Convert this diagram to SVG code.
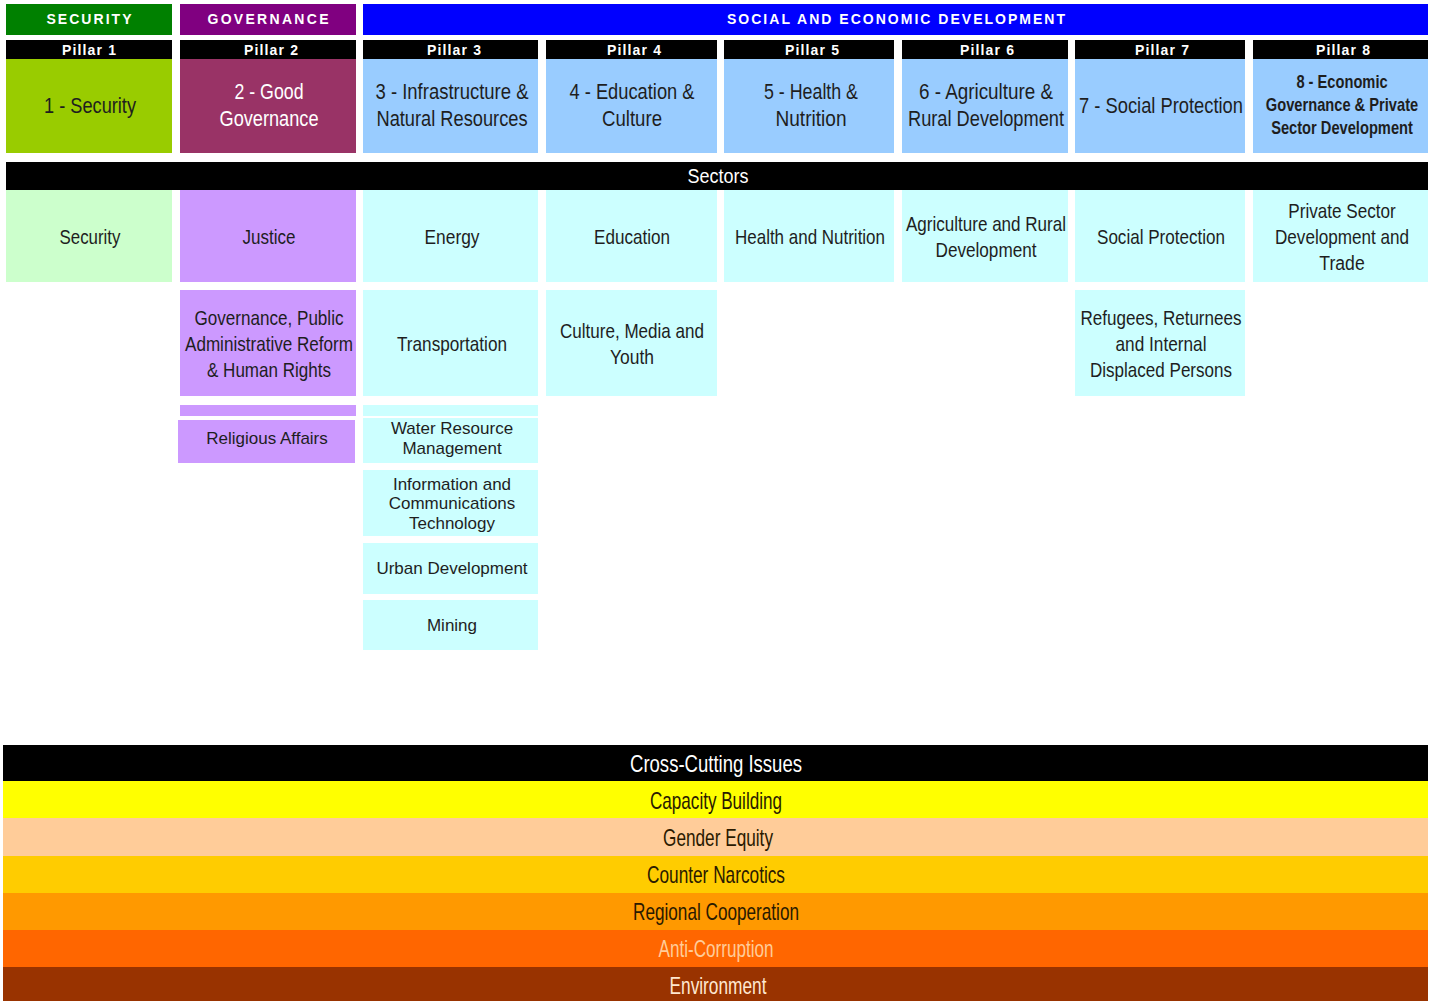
<svg xmlns="http://www.w3.org/2000/svg" width="1435" height="1001" viewBox="0 0 1435 1001">
<style>
text{font-family:"Liberation Sans",Arial,sans-serif;text-anchor:middle}
.hd{font-size:14px;font-weight:bold;fill:#fff}
.pt{font-size:22px;fill:#1e1e1e}
.pb{font-size:18px;font-weight:bold;fill:#1e1e1e}
.st{font-size:21px;fill:#1e1e1e}
.sm{font-size:17px;fill:#1e1e1e}
.cc{font-size:24px;fill:#2a1a00}
.blk{fill:#000}
.lb{fill:#99CCFF}
.cy{fill:#CCFFFF}
.pu{fill:#CC99FF}
</style>
<rect width="1435" height="1001" fill="#fff"/>

<g id="header-security">
<rect x="6" y="4" width="166" height="31" fill="#008000"/>
<text class="hd" x="89" y="24" textLength="85" lengthAdjust="spacing">SECURITY</text>
</g>
<g id="header-governance">
<rect x="180" y="4" width="176" height="31" fill="#800080"/>
<text class="hd" x="268" y="24" textLength="121" lengthAdjust="spacing">GOVERNANCE</text>
</g>
<g id="header-social">
<rect x="363" y="4" width="1065" height="31" fill="#0000FF"/>
<text class="hd" x="896" y="24" textLength="338" lengthAdjust="spacing">SOCIAL AND ECONOMIC DEVELOPMENT</text>
</g>

<g id="pillar1">
<rect class="blk" x="6" y="40" width="166" height="19"/>
<text class="hd" x="89" y="55" textLength="54" lengthAdjust="spacing">Pillar 1</text>
<rect x="6" y="59" width="166" height="94" fill="#99CC00"/>
<text class="pt" x="90" y="113" textLength="92" lengthAdjust="spacingAndGlyphs">1 - Security</text>
</g>
<g id="pillar2">
<rect class="blk" x="180" y="40" width="176" height="19"/>
<text class="hd" x="271" y="55" textLength="54" lengthAdjust="spacing">Pillar 2</text>
<rect x="180" y="59" width="176" height="94" fill="#993366"/>
<text class="pt" x="269" y="99" style="fill:#fff" textLength="69" lengthAdjust="spacingAndGlyphs">2 - Good</text>
<text class="pt" x="269" y="126" style="fill:#fff" textLength="99" lengthAdjust="spacingAndGlyphs">Governance</text>
</g>
<g id="pillar3">
<rect class="blk" x="363" y="40" width="175" height="19"/>
<text class="hd" x="454" y="55" textLength="54" lengthAdjust="spacing">Pillar 3</text>
<rect class="lb" x="363" y="59" width="175" height="94"/>
<text class="pt" x="452" y="99" textLength="153" lengthAdjust="spacingAndGlyphs">3 - Infrastructure &amp;</text>
<text class="pt" x="452" y="126" textLength="151" lengthAdjust="spacingAndGlyphs">Natural Resources</text>
</g>
<g id="pillar4">
<rect class="blk" x="546" y="40" width="171" height="19"/>
<text class="hd" x="634" y="55" textLength="54" lengthAdjust="spacing">Pillar 4</text>
<rect class="lb" x="546" y="59" width="171" height="94"/>
<text class="pt" x="632" y="99" textLength="125" lengthAdjust="spacingAndGlyphs">4 - Education &amp;</text>
<text class="pt" x="632" y="126" textLength="60" lengthAdjust="spacingAndGlyphs">Culture</text>
</g>
<g id="pillar5">
<rect class="blk" x="724" y="40" width="170" height="19"/>
<text class="hd" x="812" y="55" textLength="54" lengthAdjust="spacing">Pillar 5</text>
<rect class="lb" x="724" y="59" width="170" height="94"/>
<text class="pt" x="811" y="99" textLength="94" lengthAdjust="spacingAndGlyphs">5 - Health &amp;</text>
<text class="pt" x="811" y="126" textLength="71" lengthAdjust="spacingAndGlyphs">Nutrition</text>
</g>
<g id="pillar6">
<rect class="blk" x="902" y="40" width="166" height="19"/>
<text class="hd" x="987" y="55" textLength="54" lengthAdjust="spacing">Pillar 6</text>
<rect class="lb" x="902" y="59" width="166" height="94"/>
<text class="pt" x="986" y="99" textLength="134" lengthAdjust="spacingAndGlyphs">6 - Agriculture &amp;</text>
<text class="pt" x="986" y="126" textLength="156" lengthAdjust="spacingAndGlyphs">Rural Development</text>
</g>
<g id="pillar7">
<rect class="blk" x="1075" y="40" width="170" height="19"/>
<text class="hd" x="1162" y="55" textLength="54" lengthAdjust="spacing">Pillar 7</text>
<rect class="lb" x="1075" y="59" width="170" height="94"/>
<text class="pt" x="1161" y="113" textLength="164" lengthAdjust="spacingAndGlyphs">7 - Social Protection</text>
</g>
<g id="pillar8">
<rect class="blk" x="1253" y="40" width="175" height="19"/>
<text class="hd" x="1343" y="55" textLength="54" lengthAdjust="spacing">Pillar 8</text>
<rect class="lb" x="1253" y="59" width="175" height="94"/>
<text class="pb" transform="translate(1342 88) scale(0.815 1)">8 - Economic</text>
<text class="pb" transform="translate(1342 111) scale(0.815 1)">Governance &amp; Private</text>
<text class="pb" transform="translate(1342 134) scale(0.815 1)">Sector Development</text>
</g>

<g id="sectors-bar">
<rect class="blk" x="6" y="162" width="1422" height="28"/>
<text class="st" x="718" y="183" style="fill:#fff;font-size:20px" textLength="61" lengthAdjust="spacingAndGlyphs">Sectors</text>
</g>

<g id="sector-security">
<rect x="6" y="190" width="166" height="92" fill="#CCFFCC"/>
<text class="st" x="90" y="244" textLength="61" lengthAdjust="spacingAndGlyphs">Security</text>
</g>
<g id="sector-justice">
<rect class="pu" x="180" y="190" width="176" height="92"/>
<text class="st" x="269" y="244" textLength="53" lengthAdjust="spacingAndGlyphs">Justice</text>
</g>
<g id="sector-energy">
<rect class="cy" x="363" y="190" width="175" height="92"/>
<text class="st" x="452" y="244" textLength="55" lengthAdjust="spacingAndGlyphs">Energy</text>
</g>
<g id="sector-education">
<rect class="cy" x="546" y="190" width="171" height="92"/>
<text class="st" x="632" y="244" textLength="76" lengthAdjust="spacingAndGlyphs">Education</text>
</g>
<g id="sector-health">
<rect class="cy" x="724" y="190" width="170" height="92"/>
<text class="st" x="810" y="244" textLength="150" lengthAdjust="spacingAndGlyphs">Health and Nutrition</text>
</g>
<g id="sector-agriculture">
<rect class="cy" x="902" y="190" width="166" height="92"/>
<text class="st" x="986" y="231" textLength="160" lengthAdjust="spacingAndGlyphs">Agriculture and Rural</text>
<text class="st" x="986" y="257" textLength="101" lengthAdjust="spacingAndGlyphs">Development</text>
</g>
<g id="sector-social-protection">
<rect class="cy" x="1075" y="190" width="170" height="92"/>
<text class="st" x="1161" y="244" textLength="128" lengthAdjust="spacingAndGlyphs">Social Protection</text>
</g>
<g id="sector-private">
<rect class="cy" x="1253" y="190" width="175" height="92"/>
<text class="st" transform="translate(1342 218) scale(0.815 1)">Private Sector</text>
<text class="st" transform="translate(1342 244) scale(0.815 1)">Development and</text>
<text class="st" transform="translate(1342 270) scale(0.84 1)">Trade</text>
</g>

<g id="sector-governance">
<rect class="pu" x="180" y="290" width="176" height="106"/>
<text class="st" x="269" y="325" textLength="149" lengthAdjust="spacingAndGlyphs">Governance, Public</text>
<text class="st" x="269" y="351" textLength="168" lengthAdjust="spacingAndGlyphs">Administrative Reform</text>
<text class="st" x="269" y="377" textLength="124" lengthAdjust="spacingAndGlyphs">&amp; Human Rights</text>
</g>
<g id="sector-transportation">
<rect class="cy" x="363" y="290" width="175" height="106"/>
<text class="st" x="452" y="351" textLength="110" lengthAdjust="spacingAndGlyphs">Transportation</text>
</g>
<g id="sector-culture">
<rect class="cy" x="546" y="290" width="171" height="106"/>
<text class="st" x="632" y="338" textLength="144" lengthAdjust="spacingAndGlyphs">Culture, Media and</text>
<text class="st" x="632" y="364" textLength="44" lengthAdjust="spacingAndGlyphs">Youth</text>
</g>
<g id="sector-refugees">
<rect class="cy" x="1075" y="290" width="170" height="106"/>
<text class="st" x="1161" y="325" textLength="161" lengthAdjust="spacingAndGlyphs">Refugees, Returnees</text>
<text class="st" x="1161" y="351" textLength="91" lengthAdjust="spacingAndGlyphs">and Internal</text>
<text class="st" x="1161" y="377" textLength="142" lengthAdjust="spacingAndGlyphs">Displaced Persons</text>
</g>

<g id="strip-purple"><rect class="pu" x="180" y="405" width="176" height="11"/></g>
<g id="strip-cyan"><rect class="cy" x="363" y="405" width="175" height="11"/></g>

<g id="sector-religious">
<rect class="pu" x="178" y="420" width="177" height="43"/>
<text class="sm" x="267" y="444">Religious Affairs</text>
</g>
<g id="sector-water">
<rect class="cy" x="363" y="418" width="175" height="45"/>
<text class="sm" x="452" y="434">Water Resource</text>
<text class="sm" x="452" y="454">Management</text>
</g>
<g id="sector-ict">
<rect class="cy" x="363" y="470" width="175" height="66"/>
<text class="sm" x="452" y="490">Information and</text>
<text class="sm" x="452" y="509">Communications</text>
<text class="sm" x="452" y="529">Technology</text>
</g>
<g id="sector-urban">
<rect class="cy" x="363" y="543" width="175" height="51"/>
<text class="sm" x="452" y="574">Urban Development</text>
</g>
<g id="sector-mining">
<rect class="cy" x="363" y="600" width="175" height="50"/>
<text class="sm" x="452" y="631">Mining</text>
</g>

<g id="cross-cutting">
<rect class="blk" x="3" y="745" width="1425" height="36"/>
<text class="cc" x="716" y="772" style="fill:#fff" textLength="172" lengthAdjust="spacingAndGlyphs">Cross-Cutting Issues</text>
</g>
<g id="capacity-building">
<rect x="3" y="781" width="1425" height="37" fill="#FFFF00"/>
<text class="cc" x="716" y="809" textLength="132" lengthAdjust="spacingAndGlyphs">Capacity Building</text>
</g>
<g id="gender-equity">
<rect x="3" y="818" width="1425" height="38" fill="#FFCC99"/>
<text class="cc" x="718" y="846" textLength="110" lengthAdjust="spacingAndGlyphs">Gender Equity</text>
</g>
<g id="counter-narcotics">
<rect x="3" y="856" width="1425" height="37" fill="#FFCC00"/>
<text class="cc" x="716" y="883" textLength="138" lengthAdjust="spacingAndGlyphs">Counter Narcotics</text>
</g>
<g id="regional-cooperation">
<rect x="3" y="893" width="1425" height="37" fill="#FF9900"/>
<text class="cc" x="716" y="920" textLength="166" lengthAdjust="spacingAndGlyphs">Regional Cooperation</text>
</g>
<g id="anti-corruption">
<rect x="3" y="930" width="1425" height="37" fill="#FF6600"/>
<text class="cc" x="716" y="957" style="fill:#FFCC99" textLength="115" lengthAdjust="spacingAndGlyphs">Anti-Corruption</text>
</g>
<g id="environment">
<rect x="3" y="967" width="1425" height="34" fill="#993300"/>
<text class="cc" x="718" y="994" style="fill:#FFE8D0" textLength="97" lengthAdjust="spacingAndGlyphs">Environment</text>
</g>
</svg>
